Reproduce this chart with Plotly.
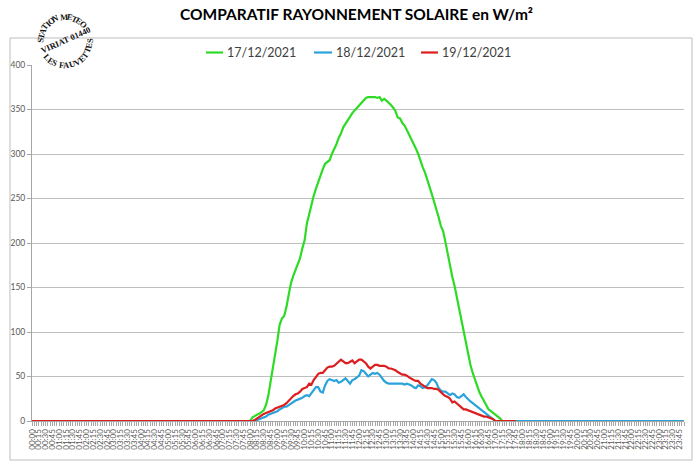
import math
import plotly.graph_objects as go

# ---- categories: 5-minute steps over the day ----
times = [f"{h:02d}:{m:02d}" for h in range(24) for m in range(0, 60, 5)]
tick_labels = [t for t in times if int(t[3:]) % 15 == 0]

series_names = ["17/12/2021", "18/12/2021", "19/12/2021"]
series_colors = ["#2EDB24", "#2AA3DC", "#DC1E1E"]

# ---- values in W/m2 (00:00 .. 17:45 for 17/12 and 19/12, full day for 18/12) ----
green = [
    0,0,0,0,0,0,0,0,0,0,0,0, 0,0,0,0,0,0,0,0,0,0,0,0,
    0,0,0,0,0,0,0,0,0,0,0,0, 0,0,0,0,0,0,0,0,0,0,0,0,
    0,0,0,0,0,0,0,0,0,0,0,0, 0,0,0,0,0,0,0,0,0,0,0,0,
    0,0,0,0,0,0,0,0,0,0,0,0, 0,0,0,0,0,0,0,0,0,0,0,0,
    0,4,6,7,8,10,12,18,28,44,58,73,
    90,108,115,118,128,142,155,163,169,175,183,194,
    203,222,233,244,253,261,269,276,283,289,291,293,
    300,305,311,318,323,330,334,339,343,346,349,352,
    355,358,361,363,364,364,364,364,363,364,360,362,
    360,358,355,352,348,341,340,335,332,327,322,316,
    312,306,300,292,285,279,272,263,255,247,237,229,
    219,213,201,188,173,162,152,139,126,112,99,86,
    74,63,54,46,39,32,27,22,17,13,11,9,
    8,6,3,0,0,0,0,0,0,0,
]
blue = [
    0,0,0,0,0,0,0,0,0,0,0,0, 0,0,0,0,0,0,0,0,0,0,0,0,
    0,0,0,0,0,0,0,0,0,0,0,0, 0,0,0,0,0,0,0,0,0,0,0,0,
    0,0,0,0,0,0,0,0,0,0,0,0, 0,0,0,0,0,0,0,0,0,0,0,0,
    0,0,0,0,0,0,0,0,0,0,0,0, 0,0,0,0,0,0,0,0,0,0,0,0,
    0,0,0,1,2,3,4,5,7,8,9,10,
    11,13,15,16,16,18,20,22,23,24,25,26,
    28,29,28,31,35,38,38,33,32,40,45,47,
    46,45,46,43,44,46,48,45,42,46,47,49,
    51,57,56,53,50,52,54,53,54,52,48,45,
    43,42,42,42,42,42,42,42,41,42,41,40,
    38,37,40,39,37,38,40,43,47,46,43,37,
    34,33,33,31,29,31,30,27,26,28,30,27,
    24,22,20,18,15,13,11,10,7,5,3,1,
    0,0,0,0,0,0,0,0,0,0,0,0, 0,0,0,0,0,0,0,0,0,0,0,0,
    0,0,0,0,0,0,0,0,0,0,0,0, 0,0,0,0,0,0,0,0,0,0,0,0,
    0,0,0,0,0,0,0,0,0,0,0,0, 0,0,0,0,0,0,0,0,0,0,0,0,
    0,0,0,0,0,0,0,0,0,0,0,0,
]
red = [
    0,0,0,0,0,0,0,0,0,0,0,0, 0,0,0,0,0,0,0,0,0,0,0,0,
    0,0,0,0,0,0,0,0,0,0,0,0, 0,0,0,0,0,0,0,0,0,0,0,0,
    0,0,0,0,0,0,0,0,0,0,0,0, 0,0,0,0,0,0,0,0,0,0,0,0,
    0,0,0,0,0,0,0,0,0,0,0,0, 0,0,0,0,0,0,0,0,0,0,0,0,
    0,0,1,3,5,7,8,9,10,11,12,14,
    15,16,17,18,20,23,25,28,30,31,33,36,
    37,38,42,41,46,50,53,54,54,57,60,61,
    61,62,64,67,69,67,65,65,67,68,65,67,
    69,69,67,65,61,59,61,63,63,62,62,62,
    61,59,59,58,57,55,53,52,52,51,49,47,
    46,45,45,42,40,38,37,37,37,36,36,35,
    32,30,28,27,25,21,22,20,17,15,13,13,
    12,11,10,9,8,7,6,5,5,4,3,2,
    0,0,0,0,0,0,0,0,0,0,
]

y_ticks = [0, 50, 100, 150, 200, 250, 300, 350, 400]

# ---- layout helpers (pixel -> paper) ----
W, H = 700, 470
L, R, T, B = 32, 684, 65, 421


def px(x):
    return (x - L) / (R - L)


def py(y):
    return (B - y) / (B - T)


FONT = "Lato, 'Open Sans', sans-serif"

fig = go.Figure()
# draw order: green, blue, red (red on top)
for name, vals, col in [(series_names[0], green, series_colors[0]),
                        (series_names[1], blue, series_colors[1]),
                        (series_names[2], red, series_colors[2])]:
    fig.add_trace(go.Scatter(
        x=times[:len(vals)], y=vals, mode="lines", name=name,
        line=dict(color=col, width=2.2), hoverinfo="skip", showlegend=False,
    ))

shapes = []
annotations = []

# outer chart frame
shapes.append(dict(type="rect", xref="paper", yref="paper",
                   x0=px(10), x1=px(692), y0=py(460), y1=py(38),
                   line=dict(color="#BDBDBD", width=1), layer="below"))

# title
annotations.append(dict(text="<b>COMPARATIF RAYONNEMENT SOLAIRE en W/m²</b>",
                        xref="paper", yref="paper", x=px(356), y=py(14),
                        xanchor="center", yanchor="middle", showarrow=False,
                        font=dict(family=FONT, size=15.5, color="#000000")))

# manual legend
legend_pos = [(206, 223), (314, 332), (421, 438)]
for (x0, x1), name, col in zip(legend_pos, series_names, series_colors):
    shapes.append(dict(type="line", xref="paper", yref="paper",
                       x0=px(x0), x1=px(x1), y0=py(52.5), y1=py(52.5),
                       line=dict(color=col, width=2.2)))
    annotations.append(dict(text=name, xref="paper", yref="paper",
                            x=px(x1 + 1.5), y=py(52.5), xanchor="left",
                            yanchor="middle", showarrow=False,
                            font=dict(family=FONT, size=12.5, color="#404040")))

# stamp logo (letters laid out along a ring, spaced by glyph width)
SERIF = "'Liberation Serif', 'DejaVu Serif', serif"
GW = {"S": .556, "T": .667, "A": .722, "I": .389, "O": .778, "N": .722,
      " ": .3, "M": .944, "E": .667, "V": .722, "R": .722, "L": .667,
      "F": .611, "U": .722}
cx, cy, r = 65, 41, 24.5


def ring(txt, start, end, outward):
    ws = [GW[c] for c in txt]
    tot = sum(ws)
    cum = 0
    for ch, w in zip(txt, ws):
        th = start + (end - start) * (cum + w / 2) / tot
        cum += w
        if ch == " ":
            continue
        x = cx + r * math.cos(math.radians(th))
        y = cy - r * math.sin(math.radians(th))
        ang = (90 - th) if outward else (270 - th)
        annotations.append(dict(text=f"<b>{ch}</b>", xref="paper", yref="paper",
                                x=px(x), y=py(y), xanchor="center",
                                yanchor="middle", showarrow=False,
                                textangle=ang,
                                font=dict(family=SERIF, size=8.5,
                                          color="#111111")))


ring("STATION METEO", 183, 36, True)
ring("LES FAUVETTES", 216, 366, False)
annotations.append(dict(text="<b>VIRIAT 01440</b>", xref="paper", yref="paper",
                        x=px(65.5), y=py(40), xanchor="center", yanchor="middle",
                        showarrow=False, textangle=-24,
                        font=dict(family=SERIF, size=8.5, color="#111111")))

tick_text = [t if t in tick_labels else "" for t in times]

fig.update_layout(
    width=W, height=H,
    margin=dict(l=L, r=W - R, t=T, b=H - B, pad=0),
    paper_bgcolor="white", plot_bgcolor="white",
    showlegend=False, hovermode=False,
    shapes=shapes, annotations=annotations,
    xaxis=dict(type="category", categoryorder="array", categoryarray=times,
               range=[0, len(times) - 1], tickmode="array", tickvals=times,
               ticktext=tick_text, tickangle=-90, ticks="outside", ticklen=4,
               tickcolor="#A6A6A6", tickwidth=1, showline=True,
               linecolor="#A6A6A6", linewidth=1, showgrid=False,
               zeroline=False, automargin=False,
               tickfont=dict(family=FONT, size=8, color="#595959")),
    yaxis=dict(range=[0, 400], tickmode="array", tickvals=y_ticks,
               ticks="outside", ticklen=4, tickcolor="#A6A6A6",
               showline=True, linecolor="#A6A6A6", linewidth=1,
               showgrid=True, gridcolor="#BFBFBF", gridwidth=1,
               zeroline=False, automargin=False,
               tickfont=dict(family=FONT, size=8.5, color="#595959")),
)

fig.write_html("out.html", config={"displayModeBar": False},
               post_script="document.body.style.margin='0';document.body.style.overflow='hidden';")
